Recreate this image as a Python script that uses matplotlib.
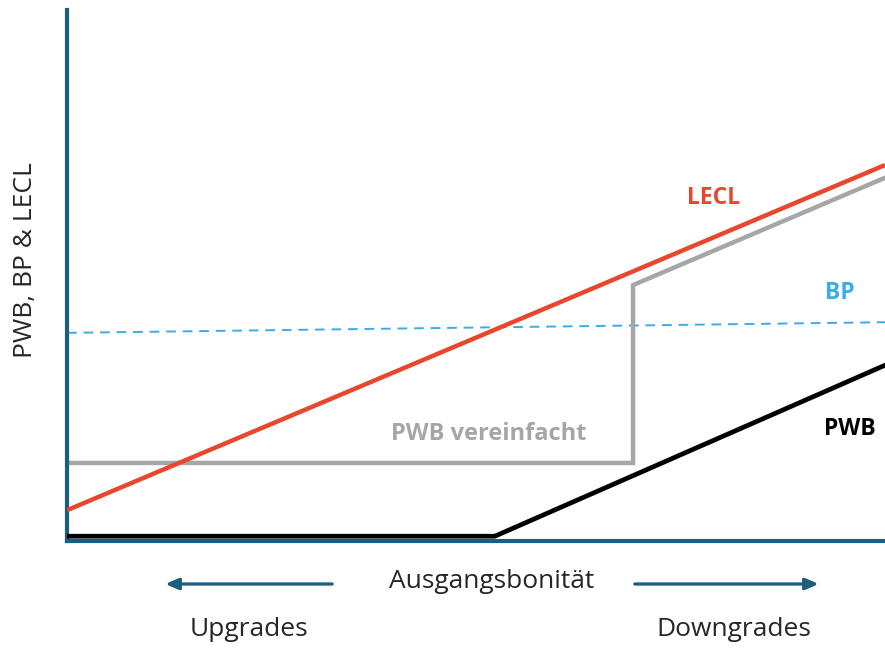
import matplotlib.pyplot as plt

# schematic values on a 0-100 scale
lecl_x = [0, 100]
lecl_y = [5.8, 70.8]

bp_x = [0, 100]
bp_y = [39.2, 41.2]

pwb_simple_x = [0, 69.2, 69.2, 100]
pwb_simple_y = [14.7, 14.7, 48.2, 68.4]

pwb_x = [0, 52.3, 100]
pwb_y = [0.9, 0.9, 33.1]

axis_col = "#1B5E80"
red = "#E8472E"
blue = "#3AACE6"
gray = "#A6A6A6"
txt_col = "#262626"

plt.rcParams["font.family"] = ["Open Sans", "DejaVu Sans"]

fig = plt.figure(figsize=(8.85, 6.48), dpi=100)
ax = fig.add_axes([67 / 885, 107 / 648, 818 / 885, 531 / 648])

ax.plot(lecl_x, lecl_y, color=red, lw=3.2, solid_capstyle="butt", zorder=3)
ax.plot(bp_x, bp_y, color=blue, lw=1.4, ls=(0, (5, 3.5)), zorder=2)
ax.plot(pwb_simple_x, pwb_simple_y, color=gray, lw=3.2, solid_joinstyle="miter", zorder=2)
ax.plot(pwb_x, pwb_y, color="black", lw=3.4, zorder=3)

ax.set_xlim(0, 100)
ax.set_ylim(0, 100)
ax.set_xticks([])
ax.set_yticks([])
for side in ["top", "right"]:
    ax.spines[side].set_visible(False)
for side in ["left", "bottom"]:
    ax.spines[side].set_color(axis_col)
    ax.spines[side].set_linewidth(3)

# curve labels
ax.text(79.0, 64.6, "LECL", color=red, fontsize=16.5, fontweight="bold", ha="center", va="center")
ax.text(94.5, 46.7, "BP", color=blue, fontsize=16.5, fontweight="bold", ha="center", va="center")
ax.text(51.5, 20.2, "PWB vereinfacht", color=gray, fontsize=17, fontweight="bold",
        ha="center", va="center")
ax.text(92.6, 21.1, "PWB", color="black", fontsize=16.5, fontweight="bold", ha="left",
        va="center", clip_on=False)

ax.set_ylabel("PWB, BP & LECL", fontsize=19, color=txt_col)
ax.yaxis.set_label_coords(-0.035, 0.53)

# x-axis description below the chart
fig.text(492 / 885, 1 - 582 / 648, "Ausgangsbonität", fontsize=19, color=txt_col,
         ha="center", va="center")
fig.text(249 / 885, 1 - 629 / 648, "Upgrades", fontsize=19, color=txt_col,
         ha="center", va="center")
fig.text(734 / 885, 1 - 629 / 648, "Downgrades", fontsize=19, color=txt_col,
         ha="center", va="center")
arrow = dict(arrowstyle="-|>,head_length=0.8,head_width=0.35", color=axis_col, lw=2)
fig.add_artist(plt.annotate("", xy=(163 / 885, 1 - 584 / 648), xytext=(335 / 885, 1 - 584 / 648),
                            xycoords="figure fraction", arrowprops=arrow))
fig.add_artist(plt.annotate("", xy=(821 / 885, 1 - 584 / 648), xytext=(632 / 885, 1 - 584 / 648),
                            xycoords="figure fraction", arrowprops=arrow))

fig.savefig("out.png", dpi=100)
